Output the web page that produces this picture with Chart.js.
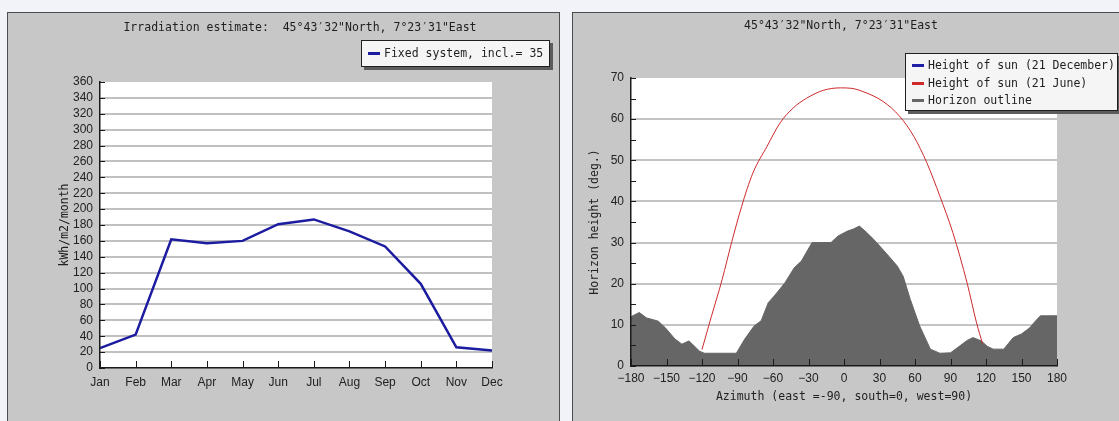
<!DOCTYPE html>
<html>
<head>
<meta charset="utf-8">
<script src="https://cdn.jsdelivr.net/npm/chart.js@4.4.1/dist/chart.umd.min.js"></script>
<style>
  body { margin: 0; width: 1119px; height: 421px; overflow: hidden; background: #f1f3f9; position: relative; }
  .panel { position: absolute; top: 12px; height: 420px; background: #c7c7c7; border: 1px solid #4d4d4d; }
  .panel canvas { position: absolute; left: 0; top: 0; }
  .title, .legend { position: absolute; font: 11.5px 'DejaVu Sans Mono', monospace; color: #1e1e1e; white-space: pre; }
  .title { transform: translate(-50%, -50%); }
  .legend { background: #f5f5f5; border: 1px solid #202020; box-shadow: 3px 3px 0 #5c5c5c; box-sizing: border-box; }
  .legend .row { position: absolute; left: 6px; height: 14px; line-height: 14px; }
  .legend .swatch { position: absolute; left: 0; top: 6px; width: 12px; height: 3px; }
  .legend .lab { position: absolute; left: 16px; top: 0; }
</style>
</head>
<body>
<div class="panel" style="left:7px; width:551px;"><canvas id="irradiation" width="551" height="408"></canvas></div>
<div class="panel" style="left:572px; width:560px;"><canvas id="horizon" width="546" height="408"></canvas></div>
<div class="title" id="leftTitle" style="left:300px; top:27px;"></div>
<div class="title" id="rightTitle" style="left:841px; top:25px;"></div>
<div class="legend" id="leftLegend" style="left:361px; top:40px; width:189px; height:27px;"></div>
<div class="legend" id="rightLegend" style="left:905px; top:53px; width:213px; height:58px;"></div>
<script>
// Left chart: monthly irradiation
const months = ['Jan', 'Feb', 'Mar', 'Apr', 'May', 'Jun', 'Jul', 'Aug', 'Sep', 'Oct', 'Nov', 'Dec'];
const irradiation = [25, 42, 162, 157, 160, 181, 187, 172, 153, 106, 26, 22];
const irradiationLabel = 'Fixed system, incl.= 35';

// Right chart: horizon outline and sun path
const horizonAzimuth = [-180, -173, -167, -157, -151, -143, -137, -131, -122, -118, -91, -84, -76, -70, -64, -59, -50, -42, -36, -27, -11, -5, 3, 8, 13, 19, 25, 36, 45, 50, 56, 64, 73, 81, 90, 98, 104, 109, 116, 121, 126, 135, 143, 150, 157, 162, 166, 180];
const horizonHeight  = [12, 13, 11.7, 10.9, 9.3, 6.6, 5.3, 6.1, 3.6, 3.1, 3.1, 6.5, 9.7, 11, 15.4, 17, 20.2, 23.9, 25.5, 30, 30, 31.6, 32.8, 33.3, 34, 32.5, 30.8, 27.3, 24.3, 21.8, 16.2, 9.7, 4.1, 3.1, 3.2, 4.9, 6.2, 6.9, 6.1, 4.8, 4.1, 4.1, 6.9, 7.8, 9.3, 11, 12.2, 12.2];
const juneAzimuth = [-120, -112, -103, -95, -86.5, -77, -65, -54, -43, -31.5, -17.5, -3, 6, 16, 33, 47, 59, 70, 81, 92, 104, 112, 117];
const juneHeight  = [4, 12.1, 21, 30, 38.8, 46.9, 53.4, 59.1, 62.7, 65.1, 67, 67.6, 67.5, 66.7, 64.3, 60.7, 55.8, 49.4, 41.3, 32.4, 20.2, 10.5, 5.5];
const decemberAzimuth = [];
const decemberHeight = [];
const sunLabels = ['Height of sun (21 December)', 'Height of sun (21 June)', 'Horizon outline'];

const leftTitle = 'Irradiation estimate:  45°43′32"North, 7°23′31"East';
const rightTitle = '45°43′32"North, 7°23′31"East';

Chart.defaults.font.family = "'Liberation Sans', Arial, sans-serif";
Chart.defaults.font.size = 12;
Chart.defaults.color = '#222';
Chart.defaults.animation = false;

const monoFont = { family: "'DejaVu Sans Mono', monospace", size: 11.5 };

// white plot area
const plotBackground = {
  id: 'plotBackground',
  beforeDraw(chart) {
    const { ctx, chartArea: a } = chart;
    ctx.save();
    ctx.fillStyle = '#ffffff';
    ctx.fillRect(a.left, a.top, a.right - a.left, a.bottom - a.top);
    ctx.restore();
  }
};

// tick marks pointing into the plot
const innerTicks = {
  id: 'innerTicks',
  afterDatasetsDraw(chart, args, opts) {
    const { ctx, chartArea: a, scales } = chart;
    ctx.save();
    ctx.strokeStyle = '#1a1a1a';
    ctx.lineWidth = 1;
    ctx.beginPath();
    scales.x.ticks.forEach((t, i) => {
      const x = Math.round(scales.x.getPixelForTick(i)) + 0.5;
      ctx.moveTo(x, a.bottom);
      ctx.lineTo(x, a.bottom - opts.x);
    });
    scales.y.ticks.forEach((t, i) => {
      const y = Math.round(scales.y.getPixelForTick(i)) + 0.5;
      ctx.moveTo(a.left, y);
      ctx.lineTo(a.left + opts.y, y);
    });
    ctx.stroke();
    ctx.restore();
  }
};

const toPoints = (xs, ys) => xs.map((x, i) => ({ x, y: ys[i] }));

const irradiationChart = new Chart(document.getElementById('irradiation'), {
  type: 'line',
  data: {
    labels: months,
    datasets: [{
      label: irradiationLabel,
      data: irradiation,
      borderColor: '#1c1ca0',
      borderWidth: 2.5,
      pointRadius: 0,
      tension: 0
    }]
  },
  options: {
    responsive: false,
    layout: { padding: { left: 0, top: 69, right: 67, bottom: 23 } },
    plugins: { legend: { display: false }, tooltip: { enabled: false }, innerTicks: { x: 7, y: 5 } },
    scales: {
      x: {
        grid: { display: false, drawTicks: false },
        border: { display: true, color: '#1a1a1a', width: 1.5, z: 1 },
        ticks: { padding: 7, autoSkip: false, maxRotation: 0 },
        afterFit: s => { s.height = 30; }
      },
      y: {
        min: 0, max: 360,
        grid: { drawTicks: false, lineWidth: 2, color: c => (c.tick && c.tick.value === 360) ? 'rgba(0,0,0,0)' : '#c0c0c0' },
        border: { display: true, color: '#1a1a1a', width: 1.5, z: 1 },
        ticks: { stepSize: 20, padding: 7, autoSkip: false },
        title: { display: true, text: 'kWh/m2/month', font: monoFont, padding: { top: 50, bottom: 0 } },
        afterFit: s => { s.width = 92; }
      }
    }
  },
  plugins: [plotBackground, innerTicks]
});

const horizonChart = new Chart(document.getElementById('horizon'), {
  type: 'line',
  data: {
    datasets: [{
      label: sunLabels[0],
      data: toPoints(decemberAzimuth, decemberHeight),
      borderColor: '#1e1ea6',
      borderWidth: 1,
      pointRadius: 0
    }, {
      label: sunLabels[1],
      data: toPoints(juneAzimuth, juneHeight),
      borderColor: '#cf2a2a',
      borderWidth: 1,
      pointRadius: 0,
      cubicInterpolationMode: 'monotone'
    }, {
      label: sunLabels[2],
      data: toPoints(horizonAzimuth, horizonHeight),
      borderColor: '#666666',
      backgroundColor: '#666666',
      borderWidth: 1,
      pointRadius: 0,
      fill: 'origin',
      tension: 0
    }]
  },
  options: {
    responsive: false,
    layout: { padding: { left: 0, top: 65, right: 62, bottom: 15 } },
    plugins: { legend: { display: false }, tooltip: { enabled: false }, innerTicks: { x: 7, y: 5 } },
    scales: {
      x: {
        type: 'linear', min: -180, max: 180,
        grid: { display: false, drawTicks: false },
        border: { display: true, color: '#1a1a1a', width: 1.5, z: 1 },
        ticks: { stepSize: 30, padding: 5, autoSkip: false, maxRotation: 0, callback: v => v < 0 ? '\u2212' + Math.abs(v) : String(v) },
        title: { display: true, text: 'Azimuth (east =-90, south=0, west=90)', font: monoFont, padding: { top: 0, bottom: 2 } },
        afterFit: s => { s.height = 40; }
      },
      y: {
        min: 0, max: 70,
        grid: { drawTicks: false, lineWidth: 2, color: c => (c.tick && c.tick.value % 10 === 0 && c.tick.value > 0 && c.tick.value < 70) ? '#c4c4c4' : 'rgba(0,0,0,0)' },
        border: { display: true, color: '#1a1a1a', width: 1.5, z: 1 },
        ticks: { stepSize: 5, padding: 7, autoSkip: false, callback: v => v % 10 === 0 ? String(v) : '' },
        title: { display: true, text: 'Horizon height (deg.)', font: monoFont, padding: { top: 15, bottom: 0 } },
        afterFit: s => { s.width = 58; }
      }
    }
  },
  plugins: [plotBackground, innerTicks]
});

// titles and legends as html text
document.getElementById('leftTitle').textContent = leftTitle;
document.getElementById('rightTitle').textContent = rightTitle;

function buildLegend(el, chart, rowTops) {
  chart.data.datasets.forEach((ds, i) => {
    const row = document.createElement('div');
    row.className = 'row';
    row.style.top = rowTops[i] + 'px';
    const sw = document.createElement('div');
    sw.className = 'swatch';
    sw.style.background = ds.borderColor;
    const lab = document.createElement('div');
    lab.className = 'lab';
    lab.textContent = ds.label;
    row.appendChild(sw);
    row.appendChild(lab);
    el.appendChild(row);
  });
}
buildLegend(document.getElementById('leftLegend'), irradiationChart, [5]);
buildLegend(document.getElementById('rightLegend'), horizonChart, [4, 22, 39]);
</script>
</body>
</html>
